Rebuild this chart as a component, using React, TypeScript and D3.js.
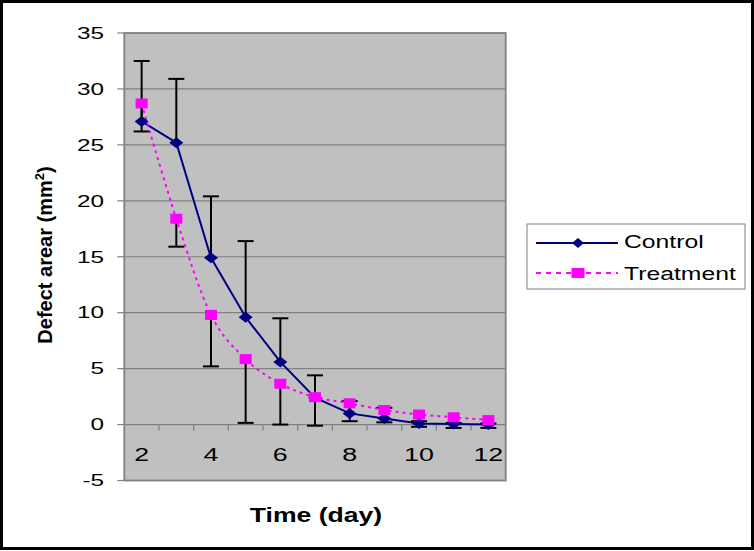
import React from "react";
import * as d3 from "d3";

const days = [2, 3, 4, 5, 6, 7, 8, 9, 10, 11, 12];
const controlValues = [27.1, 25.2, 14.9, 9.6, 5.6, 2.4, 1.0, 0.55, 0.1, 0.05, 0.0];
const controlErrPlus = [5.4, 5.7, 5.5, 6.8, 3.9, 2.0, 1.1, 0.95, 0.2, 0.1, 0.1];
const treatmentValues = [28.7, 18.4, 9.8, 5.85, 3.65, 2.45, 1.9, 1.3, 0.9, 0.65, 0.4];
const treatmentErrMinus = [2.5, 2.5, 4.6, 5.7, 3.65, 2.55, 1.6, 1.1, 1.1, 0.95, 0.7];
const yTicks = [-5, 0, 5, 10, 15, 20, 25, 30, 35];
const xLabels = [2, 4, 6, 8, 10, 12];
const seriesNames = ["Control", "Treatment"];

const W = 754;
const H = 551;
const plot = { left: 124.3, right: 505.7, top: 33, bottom: 480.5 };

export default function App() {
  const x = d3.scaleBand<number>().domain(days).range([plot.left, plot.right]).padding(0);
  const bw = x.bandwidth();
  const cx = (d: number) => (x(d) as number) + bw / 2;
  const y = d3.scaleLinear().domain([-5, 35]).range([plot.bottom, plot.top]);

  const controlLine = d3
    .line<number>()
    .x((_, i) => cx(days[i]))
    .y((v) => y(v))
    .curve(d3.curveLinear)(controlValues) as string;
  const treatLine = d3
    .line<number>()
    .x((_, i) => cx(days[i]))
    .y((v) => y(v))
    .curve(d3.curveCardinal.tension(0))(treatmentValues) as string;

  const navy = "#000080";
  const magenta = "#FF00FF";
  const grid = "#808080";
  const font = "'Liberation Sans', Arial, sans-serif";

  const diamond = (px: number, py: number, w: number, h: number) =>
    `M${px - w / 2},${py}L${px},${py - h / 2}L${px + w / 2},${py}L${px},${py + h / 2}Z`;

  const capW = 16;

  return (
    <svg
      width={W}
      height={H}
      style={{ position: "absolute", left: 0, top: 0, display: "block" }}
      fontFamily={font}
    >
      <rect x={0} y={0} width={W} height={H} fill="#fff" />
      <rect x={1.5} y={1.5} width={W - 3} height={H - 4} fill="none" stroke="#000" strokeWidth={3} />

      {/* plot background */}
      <rect
        x={plot.left}
        y={plot.top}
        width={plot.right - plot.left}
        height={plot.bottom - plot.top}
        fill="#C0C0C0"
      />
      {/* gridlines */}
      {yTicks
        .filter((t) => t > -5 && t < 35)
        .map((t) => (
          <line key={"g" + t} x1={plot.left} x2={plot.right} y1={y(t)} y2={y(t)} stroke={grid} strokeWidth={1.2} />
        ))}
      <rect
        x={plot.left}
        y={plot.top}
        width={plot.right - plot.left}
        height={plot.bottom - plot.top}
        fill="none"
        stroke={grid}
        strokeWidth={1.8}
      />
      {/* y ticks */}
      {yTicks.map((t) => (
        <g key={"yt" + t}>
          <line x1={plot.left - 7} x2={plot.left} y1={y(t)} y2={y(t)} stroke={grid} strokeWidth={1.2} />
          <g transform={`translate(104,${y(t) + 5.8}) scale(1.5,1)`}>
            <text x={0} y={0} fontSize={16.2} textAnchor="end" fill="#000">
              {t}
            </text>
          </g>
        </g>
      ))}
      {/* x ticks on zero line */}
      {days.slice(1).map((d) => (
        <line key={"xt" + d} x1={x(d) as number} x2={x(d) as number} y1={y(0)} y2={y(0) + 6} stroke={grid} strokeWidth={1.2} />
      ))}
      {xLabels.map((d) => (
        <g key={"xl" + d} transform={`translate(${cx(d)},461) scale(1.45,1)`}>
          <text x={0} y={0} fontSize={18.5} textAnchor="middle" fill="#000">
            {d}
          </text>
        </g>
      ))}

      {/* error bars */}
      {days.map((d, i) => {
        const px = cx(d);
        const top = y(controlValues[i] + controlErrPlus[i]);
        return (
          <g key={"ec" + d} stroke="#000" strokeWidth={2}>
            <line x1={px} x2={px} y1={y(controlValues[i])} y2={top} />
            <line x1={px - capW / 2} x2={px + capW / 2} y1={top} y2={top} />
          </g>
        );
      })}
      {days.map((d, i) => {
        const px = cx(d);
        const bot = y(treatmentValues[i] - treatmentErrMinus[i]);
        return (
          <g key={"et" + d} stroke="#000" strokeWidth={2}>
            <line x1={px} x2={px} y1={y(treatmentValues[i])} y2={bot} />
            <line x1={px - capW / 2} x2={px + capW / 2} y1={bot} y2={bot} />
          </g>
        );
      })}

      {/* lines */}
      <path d={controlLine} fill="none" stroke={navy} strokeWidth={2} />
      <path d={treatLine} fill="none" stroke={magenta} strokeWidth={2} strokeDasharray="3,4" />

      {/* markers */}
      {days.map((d, i) => (
        <path key={"mc" + d} d={diamond(cx(d), y(controlValues[i]), 14, 11)} fill={navy} />
      ))}
      {days.map((d, i) => (
        <rect
          key={"mt" + d}
          x={cx(d) - 6}
          y={y(treatmentValues[i]) - 5}
          width={12}
          height={10}
          fill={magenta}
        />
      ))}

      {/* y title */}
      <g transform={`translate(52,255) rotate(-90)`}>
        <text x={0} y={0} fontSize={20} fontWeight="bold" textAnchor="middle" fill="#000">
          Defect arear (mm
          <tspan fontSize={13} dy={-8}>2</tspan>
          <tspan dy={8}>)</tspan>
        </text>
      </g>

      {/* x title */}
      <g transform={`translate(316,522) scale(1.33,1)`}>
        <text x={0} y={0} fontSize={20} fontWeight="bold" textAnchor="middle" fill="#000">
          Time (day)
        </text>
      </g>

      {/* legend */}
      <rect x={527} y={224} width={218} height={65} fill="#fff" stroke={grid} strokeWidth={1} />
      <line x1={536} x2={618} y1={243} y2={243} stroke={navy} strokeWidth={2} />
      <path d={diamond(578, 243, 12, 10)} fill={navy} />
      <line x1={536} x2={618} y1={273} y2={273} stroke={magenta} strokeWidth={2} strokeDasharray="5,5" />
      <rect x={571.5} y={268} width={13} height={10} fill={magenta} />
      <g transform={`translate(624,248) scale(1.33,1)`}>
        <text x={0} y={0} fontSize={18.6} fill="#000">
          {seriesNames[0]}
        </text>
      </g>
      <g transform={`translate(624,279.5) scale(1.33,1)`}>
        <text x={0} y={0} fontSize={18.6} fill="#000">
          {seriesNames[1]}
        </text>
      </g>
    </svg>
  );
}
